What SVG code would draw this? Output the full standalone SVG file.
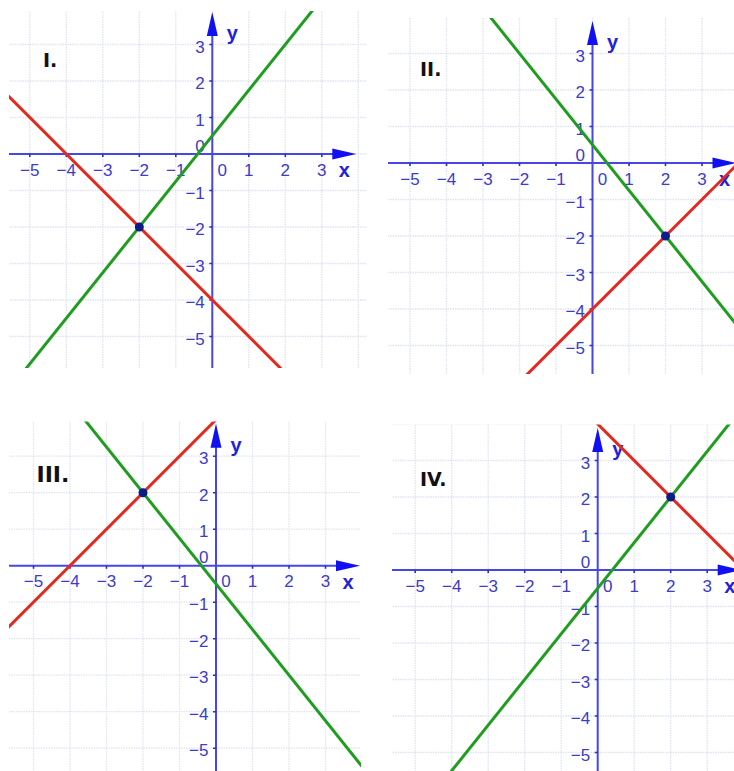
<svg xmlns="http://www.w3.org/2000/svg" width="734" height="771" viewBox="0 0 734 771">
<style>
.grid{fill:none;stroke:#dfe3f3;stroke-width:1.3;stroke-dasharray:1.5 1}
.axis{fill:none;stroke:#4646ea;stroke-width:2}
.tick{fill:none;stroke:#3030c8;stroke-width:1.6}
.arrow{fill:#1010f2}
.num{font-family:"Liberation Sans",Arial,sans-serif;font-size:17px;fill:#3c3cc8}
.xl{text-anchor:middle}
.yl{text-anchor:end}
.axl{font-family:"Liberation Sans",Arial,sans-serif;font-size:20px;font-weight:bold;fill:#2222d8;text-anchor:middle}
.title{font-family:"DejaVu Sans",Verdana,sans-serif;font-weight:bold;fill:#111111}
.green{fill:none;stroke:#1f9d1f;stroke-width:3}
.red{fill:none;stroke:#e5291f;stroke-width:3}
.pt{fill:#0c1a8c}
</style>
<defs>
<clipPath id="c1"><rect x="9" y="11" width="358" height="357"/></clipPath>
<clipPath id="c2"><rect x="388" y="18" width="346" height="356"/></clipPath>
<clipPath id="c3"><rect x="9" y="421.5" width="352" height="349.5"/></clipPath>
<clipPath id="c4"><rect x="392" y="424.6" width="342" height="346.4"/></clipPath>
<g id="axes">
<path class="grid" d="M-219 -160V230M-182.5 -160V230M-146 -160V230M-109.5 -160V230M-73 -160V230M-36.5 -160V230M0 -160V230M36.5 -160V230M73 -160V230M109.5 -160V230M146 -160V230M-230 -146H160M-230 -109.5H160M-230 -73H160M-230 -36.5H160M-230 0H160M-230 36.5H160M-230 73H160M-230 109.5H160M-230 146H160M-230 182.5H160M-230 219H160"/>
<path class="axis" d="M-240 0H122M0 240V-120"/>
<path class="arrow" d="M144 0L120 -5.5L120 5.5Z"/>
<path class="arrow" d="M0 -142L-5.5 -118L5.5 -118Z"/>
<path class="tick" d="M-182.5 0v3M-146 0v3M-109.5 0v3M-73 0v3M-36.5 0v3M36.5 0v3M73 0v3M109.5 0v3M0 -109.5h-3M0 -73h-3M0 -36.5h-3M0 36.5h-3M0 73h-3M0 109.5h-3M0 146h-3M0 182.5h-3"/>
<g class="num xl">
<text x="-182.5" y="21.5">−5</text>
<text x="-146" y="21.5">−4</text>
<text x="-109.5" y="21.5">−3</text>
<text x="-73" y="21.5">−2</text>
<text x="-36.5" y="21.5">−1</text>
<text x="10" y="21.5">0</text>
<text x="36.5" y="21.5">1</text>
<text x="73" y="21.5">2</text>
<text x="109.5" y="21.5">3</text>
</g>
<g class="num yl">
<text x="-7.5" y="-101.5">3</text>
<text x="-7.5" y="-65">2</text>
<text x="-7.5" y="-28.5">1</text>
<text x="-7.5" y="-2.5">0</text>
<text x="-7.5" y="44.5">−1</text>
<text x="-7.5" y="81">−2</text>
<text x="-7.5" y="117.5">−3</text>
<text x="-7.5" y="154">−4</text>
<text x="-7.5" y="190.5">−5</text>
</g>
<text class="axl" x="132" y="23">x</text>
<text class="axl" x="20" y="-114">y</text>
</g>
</defs>

<g id="panel-1">
<g clip-path="url(#c1)">
<g transform="translate(212.3,154)">
<use href="#axes"/>
<path class="green" d="M-219 255.5L182.5 -246.4"/>
<path class="red" d="M-255.5 -109.5L182.5 328.5"/>
<circle class="pt" cx="-73" cy="73" r="4.5"/>
</g>
</g>
<text class="title" x="43" y="67" font-size="19">I.</text>
</g>

<g id="panel-2">
<g clip-path="url(#c2)">
<g transform="translate(592.5,163)">
<use href="#axes"/>
<path class="green" d="M-146 -200.75L219 255.5"/>
<path class="red" d="M-146 292L219 -73"/>
<circle class="pt" cx="73" cy="73" r="4.5"/>
</g>
</g>
<text class="title" x="420" y="76" font-size="19">II.</text>
</g>

<g id="panel-3">
<g clip-path="url(#c3)">
<g transform="translate(216,565.7)">
<use href="#axes"/>
<path class="red" d="M-255.5 109.5L36.5 -182.5"/>
<path class="green" d="M-182.5 -209.9L219 292"/>
<circle class="pt" cx="-73" cy="-73" r="4.5"/>
</g>
</g>
<text class="title" x="36.5" y="481.5" font-size="22">III.</text>
</g>

<g id="panel-4">
<g clip-path="url(#c4)">
<g transform="translate(597.7,570)">
<use href="#axes"/>
<path class="red" d="M-36.5 -182.5L219 73"/>
<path class="green" d="M-219 292L146 -164.25"/>
<circle class="pt" cx="73" cy="-73" r="4.5"/>
</g>
</g>
<text class="title" x="420" y="486" font-size="19">IV.</text>
</g>
</svg>
